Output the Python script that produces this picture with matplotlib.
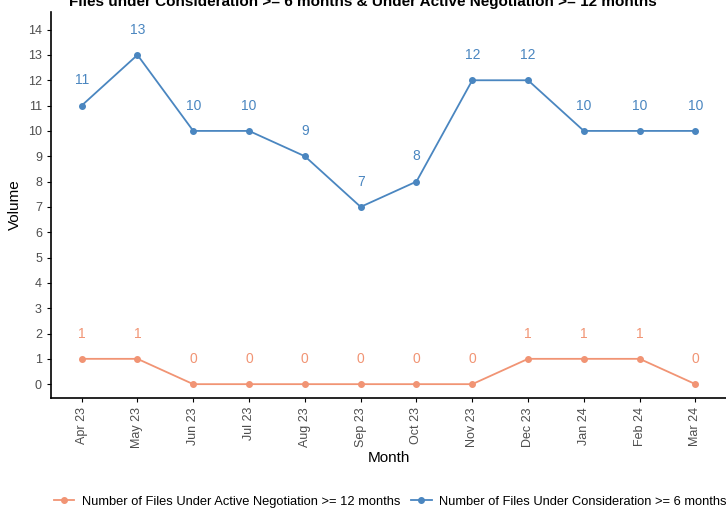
import matplotlib.pyplot as plt

plt.rcParams['font.family'] = ['Liberation Sans', 'DejaVu Sans']

months = ['Apr 23', 'May 23', 'Jun 23', 'Jul 23', 'Aug 23', 'Sep 23',
          'Oct 23', 'Nov 23', 'Dec 23', 'Jan 24', 'Feb 24', 'Mar 24']
consideration = [11, 13, 10, 10, 9, 7, 8, 12, 12, 10, 10, 10]
negotiation = [1, 1, 0, 0, 0, 0, 0, 0, 1, 1, 1, 0]

blue = '#4A86C0'
orange = '#F19474'

fig = plt.figure(figsize=(7.26, 5.17), dpi=100)
ax = fig.add_axes([0.0702, 0.230, 0.93, 0.747])
x = range(len(months))

ax.plot(x, negotiation, color=orange, marker='o', markersize=4, linewidth=1.3,
        label='Number of Files Under Active Negotiation >= 12 months')
ax.plot(x, consideration, color=blue, marker='o', markersize=4, linewidth=1.3,
        label='Number of Files Under Consideration >= 6 months')

for i in x:
    ax.text(i, consideration[i] + 1, str(consideration[i]), color=blue,
            ha='center', va='center', fontsize=10)
    ax.text(i, negotiation[i] + 1, str(negotiation[i]), color=orange,
            ha='center', va='center', fontsize=10)

ax.set_xlim(-0.55, 11.55)
ax.set_ylim(-0.55, 14.7)
ax.set_xticks(list(x))
ax.set_xticklabels(months, rotation=90, fontsize=9, color='#4d4d4d')
ax.set_yticks(range(15))
ax.tick_params(axis='y', labelsize=9, labelcolor='#4d4d4d', length=3)
ax.tick_params(axis='x', length=3)
ax.spines['top'].set_visible(False)
ax.spines['right'].set_visible(False)
ax.spines['left'].set_linewidth(1.2)
ax.spines['bottom'].set_linewidth(1.2)
ax.set_xlabel('Month', fontsize=11, labelpad=2)
ax.set_ylabel('Volume', fontsize=11, labelpad=4)

# title is cropped at the top edge in the source image
fig.text(0.5, 0.997, 'Files under Consideration >= 6 months & Under Active Negotiation >= 12 months',
         ha='center', va='center', fontsize=11, fontweight='bold')

fig.legend(loc='center left', bbox_to_anchor=(0.058, 0.03), ncol=2, frameon=False,
           fontsize=9.3, handlelength=1.6, columnspacing=0.8, handletextpad=0.6)

plt.savefig('out.png', dpi=100)
